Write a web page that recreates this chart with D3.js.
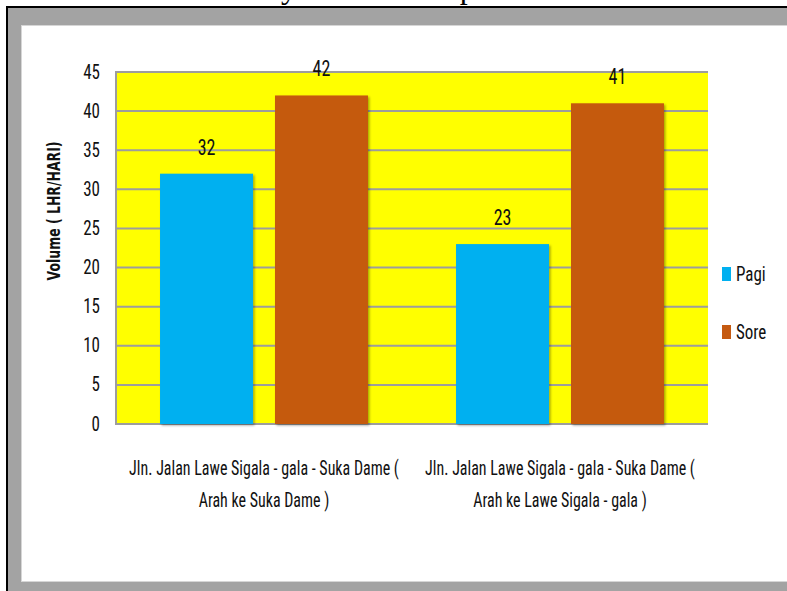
<!DOCTYPE html>
<html>
<head>
<meta charset="utf-8">
<script src="https://cdn.jsdelivr.net/npm/d3@7"></script>
<style>
  html, body { margin: 0; padding: 0; background: #ffffff; }
  svg { display: block; }
  .narrow { font-family: "Liberation Sans Narrow", "Arial Narrow", "Roboto Condensed", sans-serif; }
</style>
</head>
<body>
<svg id="chart" width="787" height="591"></svg>
<script>
// Traffic volume per road segment, morning (Pagi) vs afternoon (Sore)
const categories = [
  "Jln. Jalan Lawe Sigala - gala - Suka Dame ( Arah ke Suka Dame )",
  "Jln. Jalan Lawe Sigala - gala - Suka Dame ( Arah ke Lawe Sigala - gala )"
];
const categoryLines = [
  ["Jln. Jalan Lawe Sigala - gala - Suka Dame (", "Arah ke Suka Dame )"],
  ["Jln. Jalan Lawe Sigala - gala - Suka Dame (", "Arah ke Lawe Sigala - gala )"]
];
const seriesNames = ["Pagi", "Sore"];
const pagiValues = [32, 23];
const soreValues = [42, 41];
const yTicks = [0, 5, 10, 15, 20, 25, 30, 35, 40, 45];
const yTitle = "Volume ( LHR/HARI)";
const captionText = "Hasil Survey Lalu Lintas pada";

const colors = { Pagi: "#00B0F0", Sore: "#C55A11" };
const seriesValues = { Pagi: pagiValues, Sore: soreValues };
const STRETCH = 1.22; // tall, condensed lettering

const svg = d3.select("#chart");

// Document caption above the frame, mostly cut off by the page top
const cap = svg.append("text")
  .attr("x", 0).attr("y", -2)
  .attr("font-family", "'Liberation Serif', 'Times New Roman', serif")
  .attr("font-size", 32)
  .attr("fill", "#000")
  .text(captionText);
const yIndex = captionText.indexOf("y");
const yStart = cap.node().getStartPositionOfChar(yIndex).x;
cap.attr("x", 281 - yStart);

// Picture frame: black outline, grey mat, white chart area
svg.append("rect").attr("x", 7).attr("y", 7).attr("width", 800).attr("height", 600)
  .attr("fill", "#a3a3a3").attr("stroke", "#000").attr("stroke-width", 2);
svg.append("rect").attr("x", 21).attr("y", 25).attr("width", 800).attr("height", 557)
  .attr("fill", "#d6d6d6");
svg.append("rect").attr("x", 22).attr("y", 26).attr("width", 800).attr("height", 555)
  .attr("fill", "#ffffff");

// Plot geometry
const plot = { left: 116, right: 708, top: 72, bottom: 424 };

const y = d3.scaleLinear().domain([0, 45]).range([plot.bottom, plot.top]);
const x0 = d3.scaleBand().domain(categories).range([plot.left, plot.right]).padding(0);
const x1 = d3.scaleBand().domain(seriesNames).range([0, x0.bandwidth()])
  .paddingInner(0.191).paddingOuter(0.383);

// Soft drop shadow for bars
const defs = svg.append("defs");
const f = defs.append("filter").attr("id", "barShadow")
  .attr("x", "-10%").attr("y", "-10%").attr("width", "130%").attr("height", "130%");
f.append("feDropShadow").attr("dx", 1.5).attr("dy", 1.5).attr("stdDeviation", 1)
  .attr("flood-color", "#000").attr("flood-opacity", 0.35);

// Yellow plot area
svg.append("rect")
  .attr("x", plot.left).attr("y", plot.top)
  .attr("width", plot.right - plot.left).attr("height", plot.bottom - plot.top)
  .attr("fill", "#FFFF00");

// Horizontal gridlines
svg.append("g").selectAll("line").data(yTicks).join("line")
  .attr("x1", plot.left).attr("x2", plot.right)
  .attr("y1", d => y(d)).attr("y2", d => y(d))
  .attr("stroke", "#9d9d9d").attr("stroke-width", 2);

// Left edge of plot area
svg.append("line")
  .attr("x1", plot.left).attr("x2", plot.left)
  .attr("y1", plot.top - 1).attr("y2", plot.bottom + 1)
  .attr("stroke", "#9d9d9d").attr("stroke-width", 2);

// Bars
const groups = svg.append("g").selectAll("g").data(categories).join("g")
  .attr("transform", d => `translate(${x0(d)},0)`);

groups.selectAll("rect")
  .data((d, i) => seriesNames.map(s => ({ s, v: seriesValues[s][i] })))
  .join("rect")
  .attr("x", d => x1(d.s))
  .attr("y", d => y(d.v))
  .attr("width", x1.bandwidth())
  .attr("height", d => y(0) - y(d.v))
  .attr("fill", d => colors[d.s])
  .attr("filter", "url(#barShadow)");

// Value labels
groups.selectAll("text.val")
  .data((d, i) => seriesNames.map(s => ({ s, v: seriesValues[s][i] })))
  .join("text")
  .attr("class", "val narrow")
  .attr("transform", d => `translate(${x1(d.s) + x1.bandwidth() / 2},${y(d.v) - 19}) scale(1,${STRETCH})`)
  .attr("text-anchor", "middle")
  .attr("font-size", 18)
  .attr("fill", "#111")
  .text(d => d.v);

// Y axis labels
const yAxis = svg.append("g")
  .attr("transform", `translate(${plot.left},0)`)
  .call(d3.axisLeft(y).tickValues(yTicks).tickSize(0).tickPadding(16));
yAxis.select(".domain").remove();
yAxis.selectAll("text")
  .attr("class", "narrow")
  .attr("font-family", null)
  .attr("font-size", 17)
  .attr("fill", "#111")
  .attr("dy", null)
  .attr("y", 0)
  .attr("x", null)
  .attr("transform", `translate(-16,6) scale(1,${STRETCH})`);

// Y axis title
svg.append("text")
  .attr("transform", "translate(60,211) rotate(-90) scale(0.78,1.05)")
  .attr("text-anchor", "middle")
  .attr("font-family", "'DejaVu Sans', Verdana, sans-serif")
  .attr("font-weight", "bold")
  .attr("font-size", 16)
  .attr("fill", "#111")
  .text(yTitle);

// Category labels (two lines each)
const xAxis = svg.append("g")
  .attr("transform", `translate(0,${plot.bottom})`)
  .call(d3.axisBottom(x0).tickSize(0).tickFormat(""));
xAxis.select(".domain").remove();
xAxis.selectAll(".tick").each(function(d) {
  const lines = categoryLines[categories.indexOf(d)];
  lines.forEach((ln, k) => {
    d3.select(this).append("text")
      .attr("class", "narrow")
      .attr("text-anchor", "middle")
      .attr("font-size", 16)
      .attr("fill", "#111")
      .attr("transform", `translate(0,${51 + k * 32}) scale(1,${STRETCH})`)
      .text(ln);
  });
});

// Legend
const legend = svg.append("g").selectAll("g").data(seriesNames).join("g")
  .attr("transform", (d, i) => `translate(722,${274 + i * 58})`);
legend.append("rect")
  .attr("x", 0).attr("y", -7).attr("width", 9).attr("height", 14)
  .attr("fill", d => colors[d]);
legend.append("text")
  .attr("class", "narrow")
  .attr("transform", `translate(14,7) scale(1,${STRETCH})`)
  .attr("font-size", 17)
  .attr("fill", "#111")
  .text(d => d);
</script>
</body>
</html>
